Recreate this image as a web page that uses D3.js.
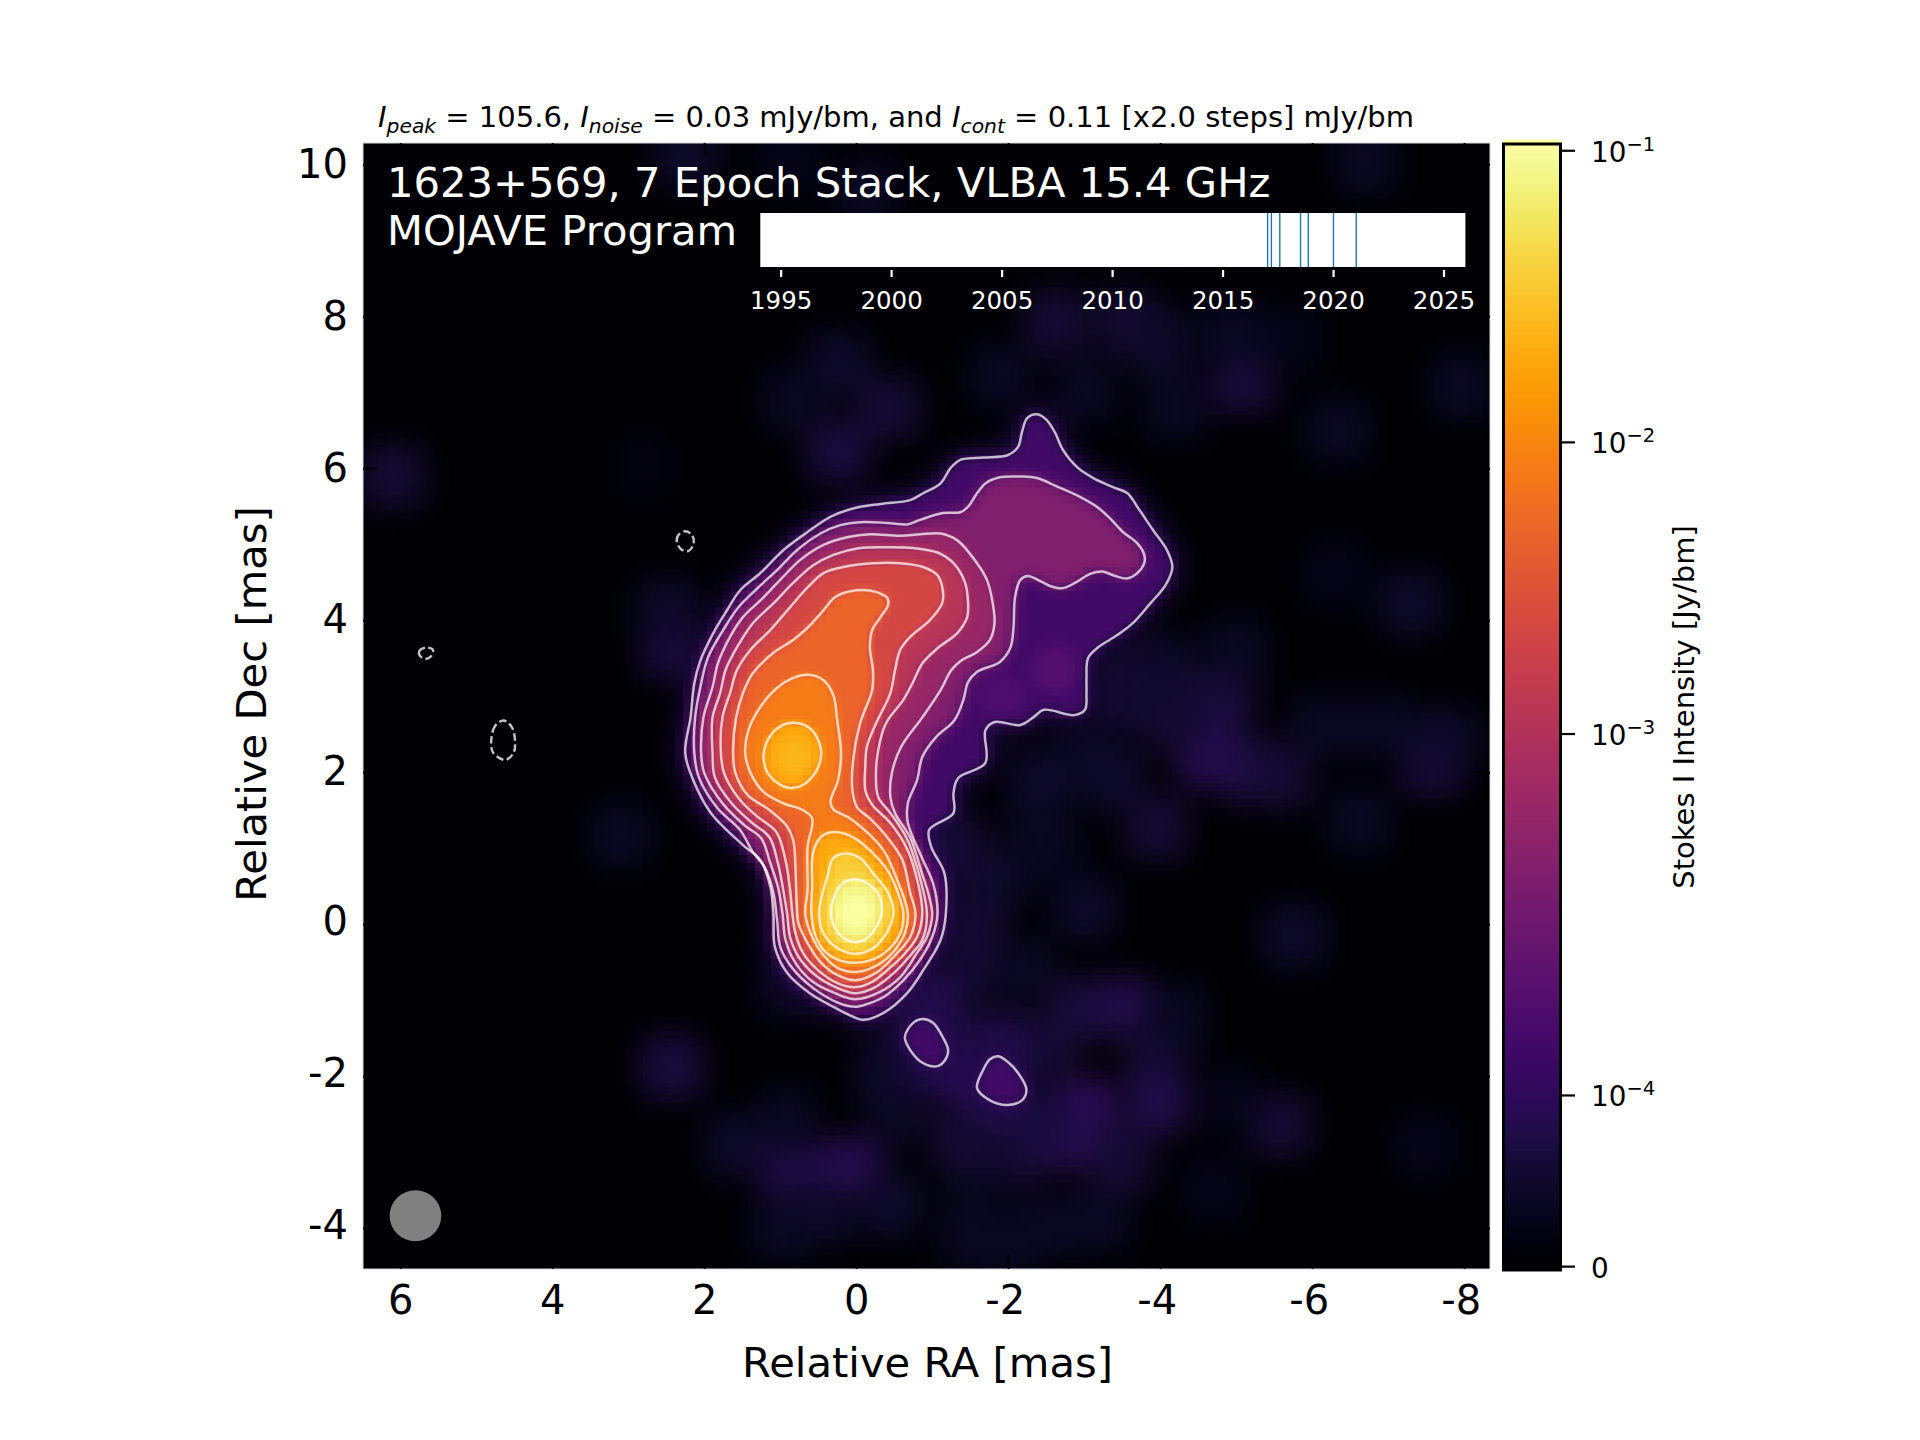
<!DOCTYPE html>
<html>
<head>
<meta charset="utf-8">
<script src="https://d3js.org/d3.v7.min.js"></script>
<style>
  body { margin: 0; background: #fff; }
  text { font-family: "DejaVu Sans", sans-serif; }
</style>
</head>
<body>
<script>
// contours: [relative RA, relative Dec] in mas
var contourL0 = [[-1.37,6.11],[-1.67,6.14],[-1.99,6.17],[-2.13,6.28],[-2.18,6.47],[-2.25,6.66],[-2.38,6.71],[-2.51,6.63],[-2.62,6.46],[-2.72,6.24],[-2.91,6.01],[-3.12,5.87],[-3.38,5.75],[-3.57,5.67],[-3.70,5.49],[-3.91,5.18],[-4.09,4.92],[-4.16,4.70],[-4.07,4.46],[-3.87,4.22],[-3.64,3.96],[-3.43,3.80],[-3.18,3.64],[-3.05,3.50],[-3.03,3.25],[-3.03,3.04],[-3.01,2.82],[-2.87,2.75],[-2.47,2.82],[-2.33,2.72],[-2.16,2.62],[-1.82,2.66],[-1.70,2.55],[-1.70,2.12],[-1.34,1.92],[-1.28,1.72],[-1.28,1.46],[-0.96,1.24],[-0.99,1.01],[-1.16,0.67],[-1.18,0.14],[-1.11,-0.21],[-0.88,-0.61],[-0.67,-0.91],[-0.36,-1.17],[-0.09,-1.26],[0.04,-1.22],[0.30,-1.09],[0.61,-0.91],[0.91,-0.64],[1.07,-0.30],[1.09,0.14],[1.13,0.49],[1.26,0.84],[1.49,1.04],[1.91,1.46],[2.13,1.86],[2.25,2.25],[2.18,2.72],[2.13,3.17],[2.05,3.47],[1.88,3.83],[1.70,4.13],[1.53,4.39],[1.26,4.62],[0.96,4.92],[0.64,5.16],[0.34,5.36],[0.04,5.47],[-0.32,5.53],[-0.71,5.58],[-0.88,5.67],[-1.11,5.80],[-1.24,6.00]];
var islandA = [[-0.64,-1.49],[-0.75,-1.30],[-0.88,-1.25],[-1.01,-1.30],[-1.14,-1.49],[-1.21,-1.66],[-1.17,-1.79],[-1.07,-1.87],[-0.88,-1.83],[-0.74,-1.70]];
var islandB = [[-1.59,-2.16],[-1.67,-1.92],[-1.76,-1.78],[-1.87,-1.74],[-2.00,-1.82],[-2.13,-1.96],[-2.24,-2.18],[-2.18,-2.32],[-1.99,-2.38],[-1.76,-2.32]];
var contourL1 = [[-1.37,5.42],[-1.47,5.49],[-1.59,5.67],[-1.70,5.80],[-1.89,5.88],[-2.16,5.89],[-2.38,5.87],[-2.64,5.76],[-2.95,5.62],[-3.17,5.49],[-3.34,5.34],[-3.51,5.16],[-3.70,5.01],[-3.79,4.86],[-3.79,4.75],[-3.70,4.62],[-3.57,4.55],[-3.41,4.58],[-3.24,4.64],[-3.08,4.61],[-2.88,4.49],[-2.71,4.42],[-2.55,4.45],[-2.39,4.53],[-2.26,4.58],[-2.16,4.53],[-2.09,4.30],[-2.07,3.91],[-2.03,3.64],[-1.89,3.45],[-1.59,3.32],[-1.47,3.18],[-1.41,2.95],[-1.29,2.68],[-1.05,2.46],[-0.87,2.20],[-0.80,1.89],[-0.68,1.59],[-0.68,1.33],[-0.88,0.84],[-1.01,0.54],[-1.07,0.14],[-1.00,-0.17],[-0.84,-0.47],[-0.62,-0.74],[-0.36,-0.96],[-0.09,-1.07],[0.01,-1.09],[0.25,-1.03],[0.57,-0.84],[0.84,-0.58],[1.00,-0.30],[1.04,0.05],[1.09,0.41],[1.20,0.74],[1.36,0.95],[1.53,1.24],[1.83,1.53],[2.07,1.93],[2.13,2.25],[2.12,2.72],[2.04,3.17],[1.95,3.51],[1.75,3.87],[1.55,4.17],[1.30,4.42],[1.04,4.66],[0.78,4.92],[0.47,5.14],[0.21,5.25],[-0.05,5.29],[-0.41,5.28],[-0.67,5.26],[-0.84,5.32],[-1.14,5.41]];
var contourL2 = [[1.89,3.12],[1.82,3.43],[1.66,3.78],[1.49,4.04],[1.26,4.26],[1.00,4.53],[0.74,4.79],[0.43,4.99],[0.12,5.09],[-0.18,5.13],[-0.58,5.11],[-0.84,5.13],[-1.11,5.14],[-1.33,5.05],[-1.59,4.75],[-1.72,4.53],[-1.79,4.26],[-1.82,3.96],[-1.76,3.74],[-1.59,3.58],[-1.37,3.46],[-1.25,3.34],[-1.11,3.08],[-0.87,2.72],[-0.59,2.33],[-0.47,1.99],[-0.45,1.67],[-0.51,1.46],[-0.71,1.14],[-0.84,0.75],[-1.00,0.14],[-0.93,-0.17],[-0.80,-0.38],[-0.58,-0.70],[-0.32,-0.89],[0.01,-0.99],[0.28,-0.91],[0.57,-0.76],[0.80,-0.51],[0.93,-0.21],[0.97,0.14],[1.03,0.49],[1.13,0.80],[1.25,1.13],[1.47,1.30],[1.76,1.59],[2.00,1.99],[2.04,2.25],[2.01,2.72]];
var contourL3 = [[1.79,3.04],[1.72,3.34],[1.57,3.64],[1.36,3.96],[1.09,4.22],[0.83,4.49],[0.57,4.72],[0.30,4.86],[-0.05,4.95],[-0.41,4.96],[-0.75,4.95],[-1.07,4.89],[-1.28,4.75],[-1.43,4.50],[-1.47,4.26],[-1.46,4.04],[-1.33,3.83],[-1.07,3.63],[-0.87,3.43],[-0.74,3.17],[-0.62,2.95],[-0.39,2.64],[-0.29,2.29],[-0.26,1.93],[-0.29,1.67],[-0.45,1.46],[-0.66,1.14],[-0.80,0.75],[-0.93,0.14],[-0.87,-0.21],[-0.74,-0.38],[-0.51,-0.63],[-0.25,-0.83],[0.01,-0.91],[0.25,-0.84],[0.54,-0.67],[0.76,-0.43],[0.87,-0.17],[0.91,0.14],[0.96,0.45],[1.03,0.80],[1.14,1.14],[1.38,1.34],[1.64,1.59],[1.86,1.93],[1.89,2.25],[1.89,2.72]];
var contourL4 = [[1.66,3.04],[1.57,3.34],[1.39,3.61],[1.13,3.87],[0.87,4.17],[0.64,4.43],[0.43,4.62],[0.12,4.71],[-0.22,4.75],[-0.58,4.75],[-0.88,4.70],[-1.07,4.59],[-1.14,4.39],[-1.13,4.22],[-0.97,4.00],[-0.71,3.78],[-0.58,3.61],[-0.51,3.34],[-0.45,3.04],[-0.26,2.64],[-0.14,2.33],[-0.12,2.07],[-0.12,1.76],[-0.21,1.57],[-0.45,1.33],[-0.66,1.01],[-0.78,0.67],[-0.87,0.14],[-0.80,-0.17],[-0.62,-0.41],[-0.45,-0.57],[-0.21,-0.76],[0.01,-0.83],[0.24,-0.78],[0.50,-0.61],[0.70,-0.38],[0.80,-0.12],[0.84,0.14],[0.87,0.45],[0.93,0.84],[1.05,1.21],[1.32,1.43],[1.55,1.66],[1.74,1.99],[1.78,2.25],[1.76,2.72]];
var contourL5 = [[-0.41,4.29],[-0.42,4.20],[-0.32,4.04],[-0.21,3.87],[-0.18,3.64],[-0.22,3.34],[-0.21,3.08],[-0.05,2.64],[0.04,2.16],[0.05,1.76],[-0.01,1.54],[-0.18,1.39],[-0.41,1.14],[-0.61,0.84],[-0.71,0.41],[-0.78,0.14],[-0.71,-0.17],[-0.54,-0.38],[-0.28,-0.63],[0.01,-0.74],[0.25,-0.67],[0.47,-0.50],[0.64,-0.25],[0.76,0.01],[0.78,0.22],[0.79,0.45],[0.80,0.75],[0.83,1.11],[0.92,1.30],[1.14,1.50],[1.43,1.70],[1.59,1.99],[1.62,2.25],[1.58,2.72],[1.49,3.04],[1.36,3.30],[1.09,3.57],[0.83,3.74],[0.63,3.91],[0.43,4.13],[0.28,4.30],[0.08,4.38],[-0.18,4.39],[-0.36,4.33]];
var contourL6 = [[0.58,1.39],[0.70,1.50],[0.96,1.59],[1.22,1.74],[1.39,1.99],[1.46,2.25],[1.42,2.55],[1.26,2.86],[1.04,3.11],[0.83,3.24],[0.63,3.28],[0.43,3.21],[0.30,3.01],[0.25,2.68],[0.20,2.25],[0.24,1.89],[0.34,1.61],[0.30,1.51],[0.08,1.39],[-0.14,1.21],[-0.36,0.97],[-0.54,0.58],[-0.68,0.14],[-0.64,-0.12],[-0.45,-0.41],[-0.22,-0.57],[0.01,-0.63],[0.24,-0.58],[0.43,-0.41],[0.58,-0.17],[0.67,0.14],[0.64,0.45],[0.64,1.01]];
var contourL7West = [[1.22,2.20],[1.18,2.39],[1.07,2.55],[0.91,2.64],[0.74,2.64],[0.58,2.55],[0.47,2.33],[0.47,2.16],[0.54,1.99],[0.70,1.83],[0.87,1.79],[1.04,1.86],[1.17,2.00]];
var contourL7Core = [[0.24,1.21],[0.04,1.14],[-0.18,0.97],[-0.41,0.71],[-0.55,0.41],[-0.62,0.14],[-0.58,-0.12],[-0.42,-0.34],[-0.21,-0.47],[0.01,-0.51],[0.24,-0.47],[0.43,-0.34],[0.54,-0.14],[0.59,0.14],[0.58,0.49],[0.57,0.93],[0.47,1.14],[0.37,1.20]];
var contourL8 = [[0.14,0.93],[0.30,0.87],[0.38,0.62],[0.45,0.38],[0.49,0.14],[0.45,-0.08],[0.30,-0.28],[0.04,-0.39],[-0.22,-0.32],[-0.42,-0.08],[-0.49,0.16],[-0.42,0.41],[-0.22,0.67],[-0.05,0.87]];
var contourL9 = [[0.01,0.59],[0.17,0.54],[0.28,0.38],[0.33,0.16],[0.28,-0.05],[0.14,-0.20],[0.00,-0.24],[-0.16,-0.17],[-0.29,0.01],[-0.34,0.21],[-0.28,0.41],[-0.14,0.54]];
// negative contours, dashed
var negativeA = [[4.64,2.68],[4.75,2.61],[4.80,2.45],[4.78,2.26],[4.62,2.16],[4.51,2.25],[4.49,2.42],[4.53,2.59]];
var negativeB = [[5.66,3.64],[5.75,3.59],[5.74,3.53],[5.67,3.49],[5.59,3.53],[5.57,3.61]];
var negativeC = [[2.25,5.17],[2.34,5.12],[2.36,5.03],[2.30,4.93],[2.21,4.91],[2.14,5.00],[2.16,5.12]];

// which contour lists belong to which level, and the intensity (mJy/bm) seen inside each band
var levelContours = [[contourL0, islandA, islandB],[contourL1],[contourL2],[contourL3],[contourL4],[contourL5],[contourL6],[contourL7West, contourL7Core],[contourL8],[contourL9]];
var bandIntensity = [0.14, 0.42, 0.62, 1.15, 2.3, 4.8, 8.0, 19, 38, 81];
var haloIntensity = 0.075;

// local brightness peaks: ra, dec, radius (mas), intensity (mJy/bm), level it sits on
var peaks = [[0.0,0.16,0.2,105.6,9],[0.82,2.2,0.22,24,7],[-2.62,3.36,0.3,0.19,0],[-1.9,3.0,0.3,0.17,0]];

// faint emission outside the contours: ra, dec, intensity (mJy/bm)
var faintPatches = [[2.24,10.12,.05],[.9,10.03,.03],[-.14,9.65,.04],[-6.71,10.03,.04],[-2.62,7.93,.06],[-3.57,7.93,.06],[-3.95,7.65,.05],[.24,7.36,.05],[-.43,6.79,.06],[.24,6.22,.07],[.81,6.89,.04],[-5.1,7.17,.07],[-4.9,7.74,.04],[-6.33,6.5,.04],[-7.95,7.08,.04],[6.1,5.89,.06],[2.81,6.03,.02],[2.43,3.65,.07],[2.48,4.12,.05],[3.1,1.17,.04],[-4.62,2.22,.09],[-5.19,2.03,.08],[-4.81,2.98,.07],[-4.24,2.7,.06],[-5.57,1.93,.06],[-3.95,1.27,.06],[-7.29,4.22,.05],[-7.57,2.12,.07],[-7.76,2.41,.05],[-6.62,1.36,.04],[-3.48,2.89,.05],[-3,2.22,.04],[-3,.22,.05],[-2.62,.79,.03],[-1.86,-.64,.05],[-3.48,-1.11,.09],[-2.52,-1.59,.06],[-3.95,-2.35,.08],[-3,-2.45,.1],[-2.81,-2.83,.09],[-1.86,-1.59,.08],[-1.1,-.92,.06],[-.9,-1.11,.09],[-2.05,-3.02,.06],[-5.76,-.16,.05],[-5.57,-2.64,.06],[-4.71,-3.5,.03],[-7.48,-2.92,.03],[2.43,-1.88,.07],[1.57,-2.92,.05],[.81,-3.4,.08],[.05,-3.21,.09],[-.43,-3.69,.05],[-1.57,-3.21,.04],[-2.52,-3.97,.04],[.9,-.83,.04],[-1.57,-.16,.06],[-1.76,.6,.05],[-3.95,-1.59,.06],[-3,-1.11,.07],[-1.1,-1.88,.09],[-1.76,-2.26,.1],[-3.6,3.2,.06],[-2.4,1.9,.05],[-1.3,1.0,.06],[-2.4,1.2,.04],[-3.4,1.9,.05],[-4,3.4,.05],[-5,3.6,.04],[-6.1,2.6,.04],[-6.9,2.6,.04],[-6.3,4.6,.03],[-1.9,7.2,.04],[-3,7,.04],[-4.2,6.8,.04],[-5.7,7.7,.03],[-2.2,-.6,.04],[-2.4,-2.6,.07],[-3.5,-3.1,.06],[-1.4,-2.8,.06],[-4.2,-1.2,.04],[-4.9,-2.3,.03],[.5,-3.8,.05],[1,-4,.04],[.9,-2.6,.04],[-.5,-2.5,.04],[-.4,-1.9,.05],[-1.5,-4.1,.04],[-2,-4.2,.04],[-3.2,-3.9,.04]];

// beam: ra, dec, width, height in mas
var beam = [5.8, -3.84, 0.68, 0.67];

// observation epochs for the inset timeline
var epochs = [2017.04, 2017.21, 2017.59, 2018.53, 2018.88, 2020.02, 2021.05];
var epochTicks = [1995, 2000, 2005, 2010, 2015, 2020, 2025];

var raTicks = [6, 4, 2, 0, -2, -4, -6, -8];
var decTicks = [10, 8, 6, 4, 2, 0, -2, -4];

// colorbar: tick value (Jy/bm) and where it sits along the inferno ramp
var cbarValues = [0, 1e-4, 1e-3, 1e-2, 1e-1];
var cbarRamp = [0.003, 0.155, 0.476, 0.735, 0.994];
var cbarExponents = ["", "\u22124", "\u22123", "\u22122", "\u22121"];

var width = 1920, height = 1440;

var svg = d3.select("body").append("svg")
    .attr("width", width)
    .attr("height", height);

var x = d3.scaleLinear().domain([6.49, -8.34]).range([363, 1490]);
var y = d3.scaleLinear().domain([10.28, -4.54]).range([143, 1269]);

// intensity in Jy/bm -> position on the colormap
var logRamp = d3.scaleLinear().domain([-4, -3, -2, -1]).range(cbarRamp.slice(1));
function rampOf(v) {
  if (v <= 1e-4) return v / 1e-4 * cbarRamp[1];
  return Math.min(1, logRamp(Math.log10(v)));
}
function colorOf(mJy) { return d3.interpolateInferno(rampOf(mJy / 1000)); }

var defs = svg.append("defs");
defs.append("clipPath").attr("id", "plot-clip").append("rect")
    .attr("x", 363).attr("y", 143).attr("width", 1127).attr("height", 1126);

function addBlur(id, s) {
  defs.append("filter").attr("id", id)
      .attr("filterUnits", "userSpaceOnUse")
      .attr("x", 300).attr("y", 80).attr("width", 1260).attr("height", 1260)
      .attr("color-interpolation-filters", "sRGB")
    .append("feGaussianBlur").attr("stdDeviation", s);
}
addBlur("blur-wide", 15);
addBlur("blur-fill", 7);
addBlur("blur-tight", 5);

// blocky look of the image pixels
var pix = defs.append("filter").attr("id", "pixelate")
    .attr("filterUnits", "userSpaceOnUse").attr("primitiveUnits", "userSpaceOnUse")
    .attr("x", 363).attr("y", 143).attr("width", 1127).attr("height", 1126)
    .attr("color-interpolation-filters", "sRGB");
pix.append("feFlood").attr("x", 366).attr("y", 146).attr("width", 2).attr("height", 2);
pix.append("feComposite").attr("x", 363).attr("y", 143).attr("width", 8).attr("height", 8);
pix.append("feTile").attr("result", "grid");
pix.append("feComposite").attr("in", "SourceGraphic").attr("in2", "grid").attr("operator", "in");
pix.append("feMorphology").attr("operator", "dilate").attr("radius", 3);

var plot = svg.append("g").attr("clip-path", "url(#plot-clip)");
var image = plot.append("g").attr("filter", "url(#pixelate)");

image.append("rect")
    .attr("x", 363).attr("y", 143).attr("width", 1127).attr("height", 1126)
    .attr("fill", d3.interpolateInferno(0));

image.append("g").attr("filter", "url(#blur-wide)")
  .selectAll("rect").data(faintPatches).enter().append("rect")
    .attr("x", function(d) { return x(d[0] + 0.4); })
    .attr("y", function(d) { return y(d[1] + 0.4); })
    .attr("width", x(0) - x(0.8))
    .attr("height", y(0) - y(0.8))
    .attr("fill", function(d) { return colorOf(d[2]); });

var contourLine = d3.line()
    .x(function(d) { return x(d[0]); })
    .y(function(d) { return y(d[1]); })
    .curve(d3.curveCatmullRomClosed.alpha(0.5));

// soft edge that spills out of the lowest contour
image.append("g").attr("filter", "url(#blur-wide)")
  .selectAll("path").data(levelContours[0]).enter().append("path")
    .attr("d", contourLine)
    .attr("fill", colorOf(haloIntensity))
    .attr("stroke", colorOf(haloIntensity))
    .attr("stroke-width", 14);

// stack the bands from the outermost level inward, each softened a bit
levelContours.forEach(function(rings, i) {
  var g = image.append("g").attr("filter", i < 2 ? "url(#blur-fill)" : "url(#blur-tight)");
  g.selectAll("path").data(rings).enter().append("path")
      .attr("d", contourLine)
      .attr("fill", colorOf(bandIntensity[i]));
  g.selectAll("ellipse")
      .data(peaks.filter(function(p) { return p[4] === i; }))
      .enter().append("ellipse")
      .attr("cx", function(d) { return x(d[0]); })
      .attr("cy", function(d) { return y(d[1]); })
      .attr("rx", function(d) { return x(0) - x(d[2]); })
      .attr("ry", function(d) { return y(0) - y(d[2]); })
      .attr("fill", function(d) { return colorOf(d[3]); });
});

// contour lines
var lines = plot.append("g");
levelContours.forEach(function(rings) {
  lines.selectAll(null).data(rings).enter().append("path")
      .attr("d", contourLine)
      .attr("fill", "none")
      .attr("stroke", "#fff")
      .attr("stroke-opacity", 0.72)
      .attr("stroke-width", 2.5);
});
lines.selectAll(null).data([negativeA, negativeB, negativeC]).enter().append("path")
    .attr("d", contourLine)
    .attr("fill", "none")
    .attr("stroke", "#c4c4c4")
    .attr("stroke-width", 2.4)
    .attr("stroke-dasharray", "7.5,3.5");

// beam
plot.append("ellipse")
    .attr("cx", x(beam[0])).attr("cy", y(beam[1]))
    .attr("rx", (x(0) - x(beam[2])) / 2).attr("ry", (y(0) - y(beam[3])) / 2)
    .attr("fill", "#808080");

// thin pale edge of the image
svg.append("rect")
    .attr("x", 363).attr("y", 143).attr("width", 1127).attr("height", 1126)
    .attr("fill", "none").attr("stroke", "#d8d8d8").attr("stroke-width", 1);

// axes, black ticks inside the image
var plainInt = function(d) { return String(d); };
var xAxis = d3.axisBottom(x).tickValues(raTicks).tickFormat(plainInt).tickSizeInner(-14).tickSizeOuter(0).tickPadding(30);
var xTop = d3.axisTop(x).tickValues(raTicks).tickFormat("").tickSizeInner(-14).tickSizeOuter(0);
var yAxis = d3.axisLeft(y).tickValues(decTicks).tickFormat(plainInt).tickSizeInner(-14).tickSizeOuter(0).tickPadding(15);
var yRight = d3.axisRight(y).tickValues(decTicks).tickFormat("").tickSizeInner(-14).tickSizeOuter(0);

function styleAxis(g) {
  g.select(".domain").remove();
  g.selectAll("line").attr("stroke", "#000").attr("stroke-width", 2);
  g.selectAll("text").attr("fill", "#000").attr("font-size", 40);
}
svg.append("g").attr("transform", "translate(0,1269)").call(xAxis).call(styleAxis)
    .selectAll("text").attr("dy", null).attr("y", 45)
    .attr("dx", function(d) { return d < 0 ? -3.5 : 0; });
svg.append("g").attr("transform", "translate(0,143)").call(xTop).call(styleAxis);
svg.append("g").attr("transform", "translate(363,0)").call(yAxis).call(styleAxis)
    .selectAll("text").attr("y", function(d) { return d <= 0 ? -2.5 : 0; });
svg.append("g").attr("transform", "translate(1490,0)").call(yRight).call(styleAxis);

svg.append("text")
    .attr("x", 927.5).attr("y", 1377)
    .attr("text-anchor", "middle").attr("font-size", 41.7)
    .text("Relative RA [mas]");
svg.append("text")
    .attr("transform", "translate(266,704) rotate(-90)")
    .attr("text-anchor", "middle").attr("font-size", 41.7)
    .text("Relative Dec [mas]");

// title with the math-style subscripts
var title = svg.append("text").attr("x", 378).attr("y", 127).attr("font-size", 29);
function titleRun(str) { title.append("tspan").text(str); }
function titleI(sub) {
  title.append("tspan").attr("font-style", "italic").text("I");
  title.append("tspan").attr("font-style", "italic").attr("font-size", 20.3).attr("dy", 6).text(sub);
  title.append("tspan").attr("dy", -6).text("\u00a0");
}
titleI("peak"); titleRun("= 105.6, ");
titleI("noise"); titleRun("= 0.03 mJy/bm, and ");
titleI("cont"); titleRun("= 0.11 [x2.0 steps] mJy/bm");

svg.append("text").attr("x", 387).attr("y", 197).attr("fill", "#fff").attr("font-size", 41.7)
    .text("1623+569, 7 Epoch Stack, VLBA 15.4 GHz");
svg.append("text").attr("x", 387).attr("y", 244.5).attr("fill", "#fff").attr("font-size", 41.7)
    .text("MOJAVE Program");

// inset timeline
var t = d3.scaleLinear().domain([1994.08, 2025.99]).range([760.3, 1465.4]);
svg.append("rect")
    .attr("x", t.range()[0]).attr("y", 213)
    .attr("width", t.range()[1] - t.range()[0]).attr("height", 54)
    .attr("fill", "#fff");
svg.selectAll(".epoch").data(epochs).enter().append("line")
    .attr("class", "epoch")
    .attr("x1", t).attr("x2", t)
    .attr("y1", 213).attr("y2", 267)
    .attr("stroke", "#1f77b4").attr("stroke-width", 1.4);
var tAxis = d3.axisBottom(t).tickValues(epochTicks).tickFormat(d3.format("d")).tickSize(7).tickPadding(14.5);
svg.append("g").attr("transform", "translate(0,270)").call(tAxis).call(function(g) {
  g.select(".domain").remove();
  g.selectAll("line").attr("stroke", "#fff").attr("stroke-width", 2.2);
  g.selectAll("text").attr("fill", "#fff").attr("font-size", 24.5);
});

// colorbar
var cbarY = d3.scaleLinear().domain([0, 1]).range([1270, 144]);
var rampSteps = d3.range(256).map(function(i) { return i / 255; });
svg.append("g").selectAll("rect").data(rampSteps).enter().append("rect")
    .attr("x", 1503.5).attr("width", 57)
    .attr("y", function(d) { return cbarY(d) - 4.5; })
    .attr("height", 5.4)
    .attr("fill", function(d) { return d3.interpolateInferno(d); });
svg.append("rect")
    .attr("x", 1503.5).attr("y", 144).attr("width", 57).attr("height", 1126)
    .attr("fill", "none").attr("stroke", "#000").attr("stroke-width", 3);
var cbarTicks = svg.append("g").selectAll("g").data(cbarValues).enter().append("g")
    .attr("transform", function(d, i) { return "translate(1561," + cbarY(cbarRamp[i]) + ")"; });
cbarTicks.append("line").attr("x2", 14).attr("stroke", "#000").attr("stroke-width", 2.2);
var cbarText = cbarTicks.append("text").attr("x", 30).attr("y", 11).attr("font-size", 27.8);
cbarText.append("tspan").text(function(d) { return d === 0 ? "0" : "10"; });
cbarText.append("tspan").attr("font-size", 19.5).attr("dy", -11)
    .text(function(d, i) { return cbarExponents[i]; });
svg.append("text")
    .attr("transform", "translate(1694,707) rotate(-90)")
    .attr("text-anchor", "middle").attr("font-size", 29)
    .text("Stokes I Intensity [Jy/bm]");
</script>
</body>
</html>
